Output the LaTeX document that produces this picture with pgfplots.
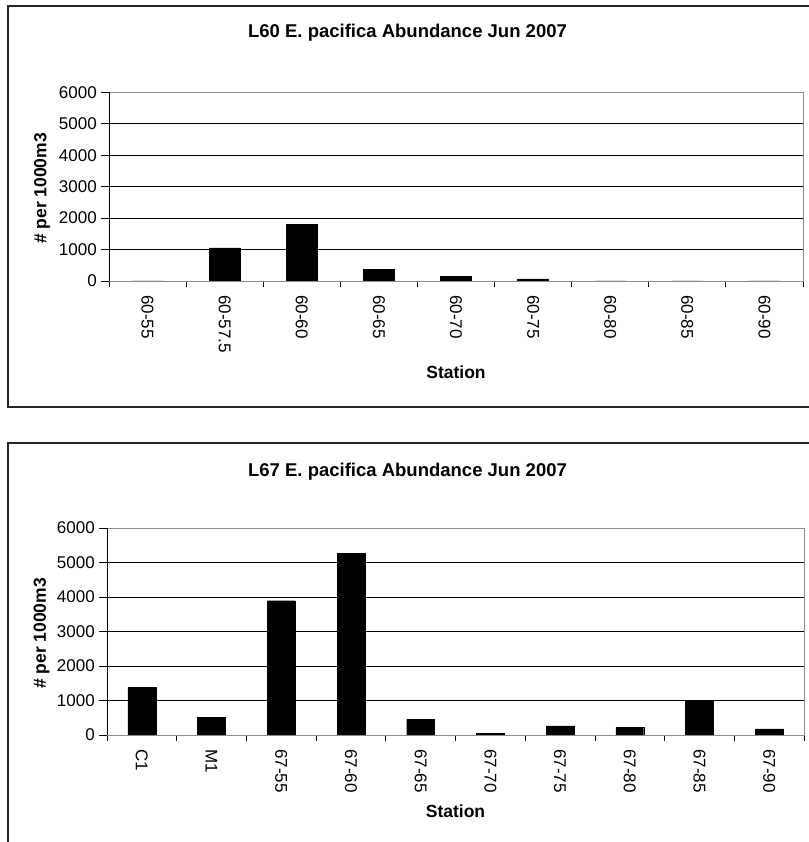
\documentclass[border=0pt]{standalone}
\usepackage{fontspec}
\setmainfont{Liberation Sans}
\usepackage{pgfplots}
\pgfplotsset{compat=1.18}

\pgfplotsset{
  excelbar/.style={
    scale only axis,
    anchor=south west,
    ybar, bar width=0.4,
    ymin=0, ymax=6000, ytick={0,1000,...,6000},
    scaled y ticks=false,
    ymajorgrids,
    grid style={black, line width=0.7pt},
    axis line style={draw=black!45, line width=0.9pt},
    tick align=outside,
    xtick pos=lower, ytick pos=left,
    major tick length=8pt, minor tick length=6pt,
    major x tick style={draw=none},
    minor x tick style={draw=black, line width=0.8pt},
    major y tick style={draw=black, line width=0.8pt},
    tick label style={font=\fontsize{17}{20}\selectfont},
    /pgf/number format/assume math mode=true,
    /pgf/number format/1000 sep={},
    xticklabel style={rotate=-90, anchor=west, inner sep=0pt},
    xticklabel shift=6pt,
    yticklabel style={inner sep=0pt},
    yticklabel shift=4pt,
  },
}

\begin{document}
\begin{tikzpicture}[x=1pt, y=1pt]
\useasboundingbox (0,0) rectangle (808,842);
% chart frames
\draw[line width=1.3pt, black!85] (8,435) rectangle (830,836);
\draw[line width=1.3pt, black!85] (8,-10) -- (8,399) -- (830,399);

% L60
\begin{axis}[excelbar,
    at={(109pt,561pt)}, width=694pt, height=188.7pt,
    xmin=-0.5, xmax=8.5,
    xtick={0,...,8},
    minor xtick={-0.5,0.5,...,8.5},
    xticklabels={60-55,60-57.5,60-60,60-65,60-70,60-75,60-80,60-85,60-90}]
\addplot[fill=black, draw=black] coordinates {
  (0,0) (1,1050) (2,1810) (3,370) (4,150) (5,65) (6,0) (7,0) (8,0)};
\draw[black, line width=0.9pt] (rel axis cs:0,0) -- (rel axis cs:0,1);
\draw[black!75, line width=0.9pt] (rel axis cs:0,0) -- (rel axis cs:1,0);
\end{axis}
\node[font=\bfseries\fontsize{18.5}{22}\selectfont] at (407.5,809) {L60 E. pacifica Abundance Jun 2007};
\node[rotate=90, font=\bfseries\fontsize{17.5}{21}\selectfont] at (42,653.5) {\# per 1000m3};
\node[font=\bfseries\fontsize{17.5}{21}\selectfont] at (456,470) {Station};

% L67
\begin{axis}[excelbar,
    at={(107pt,107pt)}, width=697pt, height=207pt,
    xmin=-0.5, xmax=9.5,
    xtick={0,...,9},
    minor xtick={-0.5,0.5,...,9.5},
    xticklabels={C1,M1,67-55,67-60,67-65,67-70,67-75,67-80,67-85,67-90}]
\addplot[fill=black, draw=black] coordinates {
  (0,1382) (1,505) (2,3892) (3,5270) (4,457) (5,57) (6,267) (7,219) (8,990) (9,180)};
\draw[black, line width=0.9pt] (rel axis cs:0,0) -- (rel axis cs:0,1);
\draw[black!75, line width=0.9pt] (rel axis cs:0,0) -- (rel axis cs:1,0);
\end{axis}
\node[font=\bfseries\fontsize{18.5}{22}\selectfont] at (407.5,370.3) {L67 E. pacifica Abundance Jun 2007};
\node[rotate=90, font=\bfseries\fontsize{17.5}{21}\selectfont] at (41.5,208.5) {\# per 1000m3};
\node[font=\bfseries\fontsize{17.5}{21}\selectfont] at (455.5,30.3) {Station};
\end{tikzpicture}
\end{document}
